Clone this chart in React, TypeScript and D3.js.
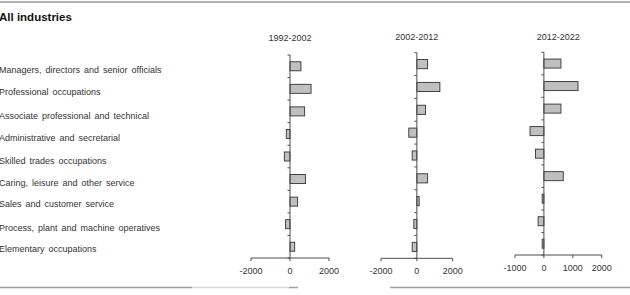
import React from "react";
import * as d3 from "d3";

const categories = [
  "Managers, directors and senior officials",
  "Professional occupations",
  "Associate professional and technical",
  "Administrative and secretarial",
  "Skilled trades occupations",
  "Caring, leisure and other service",
  "Sales and customer service",
  "Process, plant and machine operatives",
  "Elementary occupations",
];

const periods = ["1992-2002", "2002-2012", "2012-2022"];

const values1992 = [560, 1080, 750, -190, -290, 790, 390, -225, 240];
const values2002 = [600, 1285, 485, -450, -260, 600, 130, -170, -260];
const values2012 = [590, 1180, 590, -480, -290, 670, -60, -200, -60];

const ticks1992 = [-2000, 0, 2000];
const ticks2002 = [-2000, 0, 2000];
const ticks2012 = [-1000, 0, 1000, 2000];

const domains: [number, number][] = [
  [-2000, 2000],
  [-2000, 2000],
  [-1000, 2000],
];

const panels = [
  { x0: 251, x1: 329, y0: 55, y1: 258, titleY: 41, values: values1992, ticks: ticks1992 },
  { x0: 381, x1: 452.7, y0: 52.7, y1: 258.3, titleY: 40, values: values2002, ticks: ticks2002 },
  { x0: 515, x1: 601.7, y0: 52.3, y1: 255, titleY: 39.5, values: values2012, ticks: ticks2012 },
];

const labelY = [70, 92, 116, 138, 161, 183, 204, 228, 249];

const FONT = "'Liberation Sans', Arial, sans-serif";

function Panel({ p, i }: { p: any; i: number }) {
  const x = d3.scaleLinear().domain(domains[i]).range([p.x0, p.x1]);
  const y = d3
    .scaleBand<string>()
    .domain(categories)
    .range([p.y0, p.y1])
    .paddingInner(0.6)
    .paddingOuter(0.3);
  const step = (p.y1 - p.y0) / categories.length;
  const zero = x(0);
  const axisColor = "#4d4d4d";
  return (
    <g>
      <text
        x={(p.x0 + p.x1) / 2}
        y={p.titleY}
        textAnchor="middle"
        fontSize={9}
        fill="#333"
        fontFamily={FONT}
      >
        {periods[i]}
      </text>
      {categories.map((c, k) => {
        const v = p.values[k];
        const xa = x(Math.min(0, v));
        const xb = x(Math.max(0, v));
        return (
          <rect
            key={c}
            x={xa}
            y={y(c)!}
            width={Math.max(1, xb - xa)}
            height={y.bandwidth()}
            fill="#c0c0c0"
            stroke="#333"
            strokeWidth={0.9}
          />
        );
      })}
      <line x1={zero} x2={zero} y1={p.y0} y2={p.y1} stroke={axisColor} strokeWidth={1} />
      {d3.range(categories.length + 1).map((k) => (
        <line
          key={k}
          x1={zero - 2.5}
          x2={zero}
          y1={p.y0 + k * step}
          y2={p.y0 + k * step}
          stroke={axisColor}
          strokeWidth={1}
        />
      ))}
      <line x1={p.x0} x2={p.x1} y1={p.y1} y2={p.y1} stroke={axisColor} strokeWidth={1} />
      {p.ticks.map((t: number) => (
        <g key={t}>
          <line x1={x(t)} x2={x(t)} y1={p.y1} y2={p.y1 + 3} stroke={axisColor} strokeWidth={1} />
          <text
            x={x(t)}
            y={p.y1 + 16}
            textAnchor="middle"
            fontSize={9}
            fill="#333"
            fontFamily={FONT}
          >
            {t}
          </text>
        </g>
      ))}
    </g>
  );
}

export default function App() {
  return (
    <svg
      width={630}
      height={295}
      style={{ position: "absolute", left: 0, top: 0, background: "#fff" }}
    >
      <rect width={630} height={295} fill="#fff" />
      <line x1={0} x2={630} y1={2} y2={2} stroke="#9a9a9a" strokeWidth={1.5} />
      <text x={-1} y={21} fontSize={11.5} fontWeight="bold" fill="#111" fontFamily={FONT}>
        All industries
      </text>
      {categories.map((c, k) => (
        <text
          key={c}
          x={-1}
          y={labelY[k] + 3}
          fontSize={9}
          fill="#333"
          fontFamily={FONT}
          style={{ wordSpacing: "1.5px" }}
        >
          {c}
        </text>
      ))}
      {panels.map((p, i) => (
        <Panel key={i} p={p} i={i} />
      ))}
      <line x1={0} x2={192} y1={287.5} y2={287.5} stroke="#a0a0a0" strokeWidth={1.5} />
      <line x1={192} x2={289} y1={287.5} y2={287.5} stroke="#d9d9d9" strokeWidth={1.5} />
      <line x1={289} x2={298} y1={287.5} y2={287.5} stroke="#a0a0a0" strokeWidth={1.5} />
      <line x1={390} x2={630} y1={287.5} y2={287.5} stroke="#a0a0a0" strokeWidth={1.5} />
    </svg>
  );
}
